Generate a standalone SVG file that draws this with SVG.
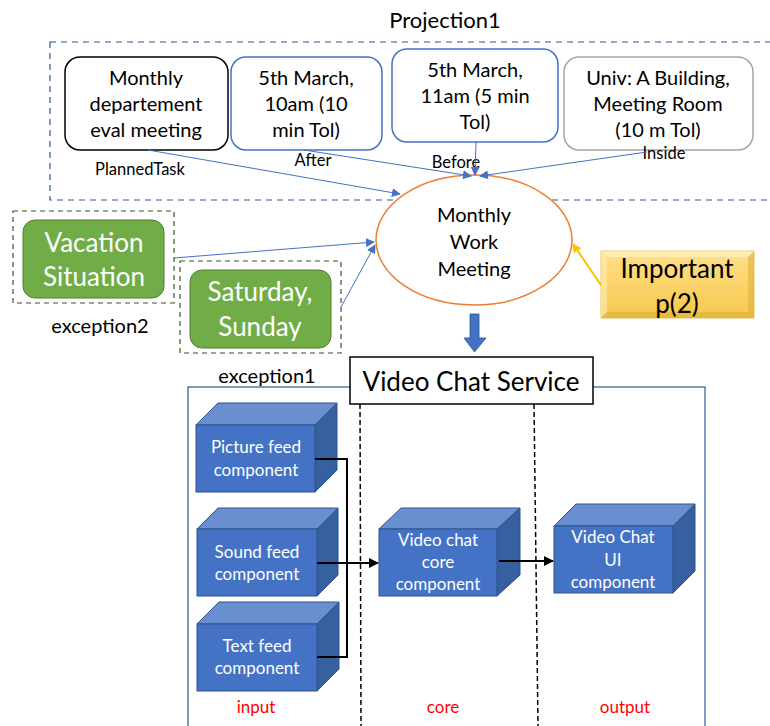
<svg xmlns="http://www.w3.org/2000/svg" width="770" height="726" viewBox="0 0 770 726">
<defs>
<style>
text{font-family:Lato,"Open Sans","Liberation Sans",sans-serif;text-anchor:middle;fill:#000}
.box{fill:#fff;stroke-width:1.5}
.t18{font-size:20px}
.t14{font-size:16.5px}
.grn{fill:#70AD47;stroke:#507E32;stroke-width:1}
.gdash{fill:none;stroke:#375623;stroke-width:1.2;stroke-dasharray:5 4}
.wt{fill:#fff;font-size:26px}
.cw{fill:#fff;font-size:17px}
.front{fill:#4472C4;stroke:#2F528F;stroke-width:1}
.top{fill:#6A8FD0;stroke:#2F528F;stroke-width:1}
.side{fill:#36609F;stroke:#2F528F;stroke-width:1}
.blue{fill:none;stroke:#4472C4;stroke-width:1}
.blk{fill:none;stroke:#000;stroke-width:2}
.red{fill:#FF0000;font-size:17px}
.big{font-size:26px}
</style>
<marker id="ab" viewBox="0 0 10 10" refX="9" refY="5" markerWidth="9" markerHeight="9" orient="auto" markerUnits="userSpaceOnUse"><path d="M0,0L10,5L0,10z" fill="#4472C4"/></marker>
<marker id="ay" viewBox="0 0 10 10" refX="9" refY="5" markerWidth="9" markerHeight="9" orient="auto" markerUnits="userSpaceOnUse"><path d="M0,0L10,5L0,10z" fill="#FFC000"/></marker>
<marker id="ak" viewBox="0 0 10 10" refX="9" refY="5" markerWidth="10" markerHeight="10" orient="auto" markerUnits="userSpaceOnUse"><path d="M0,0L10,5L0,10z" fill="#000"/></marker>
<linearGradient id="gold" x1="0" y1="0" x2="0" y2="1"><stop offset="0" stop-color="#FFE08A"/><stop offset="1" stop-color="#F5C84C"/></linearGradient>
</defs>

<g id="projection1">
<rect x="50" y="42" width="725" height="158" fill="none" stroke="#2F5597" stroke-width="1.2" stroke-dasharray="6 5"/>
<text x="445" y="28" style="font-size:22px">Projection1</text>
</g>

<g id="planned">
<rect class="box" x="65" y="57" width="163" height="93" rx="15" stroke="#000"/>
<text class="t18" x="146" y="85">Monthly</text>
<text class="t18" x="146" y="111">departement</text>
<text class="t18" x="146" y="137">eval meeting</text>
<text class="t14" x="140" y="175">PlannedTask</text>
</g>
<g id="after">
<rect class="box" x="231" y="57" width="151" height="93" rx="15" stroke="#4472C4"/>
<text class="t18" x="306" y="85">5th March,</text>
<text class="t18" x="306" y="111">10am (10</text>
<text class="t18" x="306" y="137">min Tol)</text>
<text class="t14" x="313" y="166">After</text>
</g>
<g id="before">
<rect class="box" x="392" y="49" width="166" height="93" rx="15" stroke="#4472C4"/>
<text class="t18" x="475" y="77">5th March,</text>
<text class="t18" x="475" y="103">11am (5 min</text>
<text class="t18" x="475" y="129">Tol)</text>
<text class="t14" x="456" y="168">Before</text>
</g>
<g id="inside">
<rect class="box" x="564" y="57" width="189" height="93" rx="15" stroke="#A5A5A5"/>
<text class="t18" x="658" y="85">Univ: A Building,</text>
<text class="t18" x="658" y="111">Meeting Room</text>
<text class="t18" x="658" y="137">(10 m Tol)</text>
<text class="t14" x="664" y="159">Inside</text>
</g>

<g id="meeting">
<ellipse cx="474" cy="240" rx="98" ry="65" fill="#fff" stroke="#ED7D31" stroke-width="1.5"/>
<text class="t18" x="474" y="222">Monthly</text>
<text class="t18" x="474" y="249">Work</text>
<text class="t18" x="474" y="276">Meeting</text>
</g>

<g id="exception2">
<rect class="gdash" x="13" y="211" width="161" height="92"/>
<rect class="grn" x="23" y="220" width="141" height="78" rx="12"/>
<text class="wt" x="94" y="252">Vacation</text>
<text class="wt" x="94" y="286">Situation</text>
<text class="t18" x="100" y="333">exception2</text>
</g>
<g id="exception1">
<rect class="gdash" x="180" y="261" width="161" height="92"/>
<rect class="grn" x="190" y="270" width="141" height="78" rx="12"/>
<text class="wt" x="260" y="301">Saturday,</text>
<text class="wt" x="260" y="336">Sunday</text>
<text class="t18" x="267" y="383">exception1</text>
</g>

<g id="important">
<path d="M601,251H754V318H601z" fill="url(#gold)" stroke="#E0B33E" stroke-width="0.8"/>
<path d="M601,251L607,257V312L601,318z" fill="#FCE9A8" opacity="0.7"/>
<path d="M754,251L748,257V312L754,318z" fill="#D9A932" opacity="0.5"/>
<path d="M601,318L607,312H748L754,318z" fill="#D9A932" opacity="0.5"/>
<path d="M601,251L607,257H748L754,251z" fill="#FFF1C0" opacity="0.7"/>
<text class="big" x="677" y="278">Important</text>
<text class="big" x="677" y="313">p(2)</text>
</g>

<g id="service">
<rect x="188" y="387" width="517" height="345" fill="none" stroke="#2F5597" stroke-width="1.2"/>
<rect x="350" y="357" width="243" height="47" fill="#fff" stroke="#000" stroke-width="1.5"/>
<text class="big" x="471" y="391">Video Chat Service</text>
<line x1="360" y1="404" x2="361" y2="726" stroke="#000" stroke-width="1.5" stroke-dasharray="5 3"/>
<line x1="534" y1="404" x2="538" y2="726" stroke="#000" stroke-width="1.5" stroke-dasharray="5 3"/>
<text class="red" x="256" y="713">input</text>
<text class="red" x="443" y="713">core</text>
<text class="red" x="625" y="713">output</text>
</g>

<g id="picture-feed">
<path class="top" d="M196,425L218,403H337L315,425z"/>
<path class="side" d="M315,425L337,403V470L315,492z"/>
<rect class="front" x="196" y="425" width="119" height="67"/>
<text class="cw" x="256" y="453">Picture feed</text>
<text class="cw" x="256" y="476">component</text>
</g>
<g id="sound-feed">
<path class="top" d="M197,529L218,508H338L317,529z"/>
<path class="side" d="M317,529L338,508V575L317,596z"/>
<rect class="front" x="197" y="529" width="120" height="67"/>
<text class="cw" x="257" y="558">Sound feed</text>
<text class="cw" x="257" y="580">component</text>
</g>
<g id="text-feed">
<path class="top" d="M197,624L219,602H339L317,624z"/>
<path class="side" d="M317,624L339,602V669L317,691z"/>
<rect class="front" x="197" y="624" width="120" height="67"/>
<text class="cw" x="257" y="652">Text feed</text>
<text class="cw" x="257" y="674">component</text>
</g>
<g id="core-component">
<path class="top" d="M379,529L401,508H520L497,529z"/>
<path class="side" d="M497,529L520,508V575L497,596z"/>
<rect class="front" x="379" y="529" width="118" height="67"/>
<text class="cw" x="438" y="546">Video chat</text>
<text class="cw" x="438" y="568">core</text>
<text class="cw" x="438" y="590">component</text>
</g>
<g id="ui-component">
<path class="top" d="M554,526L576,504H695L673,526z"/>
<path class="side" d="M673,526L695,504V571L673,593z"/>
<rect class="front" x="554" y="526" width="119" height="67"/>
<text class="cw" x="613" y="543">Video Chat</text>
<text class="cw" x="613" y="566">UI</text>
<text class="cw" x="613" y="588">component</text>
</g>

<g id="connectors">
<line class="blue" x1="148" y1="150" x2="400" y2="194" marker-end="url(#ab)"/>
<line class="blue" x1="304" y1="150" x2="471" y2="176" marker-end="url(#ab)"/>
<line class="blue" x1="476" y1="142" x2="475" y2="175" marker-end="url(#ab)"/>
<line class="blue" x1="647" y1="152" x2="480" y2="176" marker-end="url(#ab)"/>
<line class="blue" x1="174" y1="258" x2="374" y2="242" marker-end="url(#ab)"/>
<line class="blue" x1="341" y1="307" x2="375" y2="245" marker-end="url(#ab)"/>
<line x1="601" y1="285" x2="573" y2="244" stroke="#FFC000" stroke-width="2" marker-end="url(#ay)"/>
<path d="M470,314H479V338H486L474.5,352L464,338H470z" fill="#4472C4" stroke="#2F528F" stroke-width="0.8"/>
<polyline class="blk" points="315,459 347,459 347,657 317,657"/>
<line class="blk" x1="317" y1="563" x2="378" y2="563" marker-end="url(#ak)"/>
<line class="blk" x1="499" y1="561" x2="553" y2="561" marker-end="url(#ak)"/>
</g>
</svg>
